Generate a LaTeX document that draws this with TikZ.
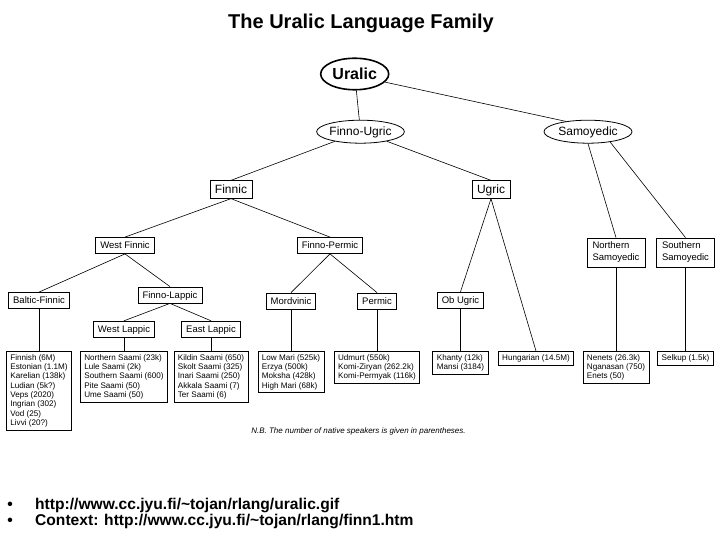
\documentclass[tikz,border=0pt]{standalone}
\usepackage{fontspec}
\setmainfont{Liberation Sans}
\usetikzlibrary{shapes.geometric}

\begin{document}
\begin{tikzpicture}[x=1pt, y=-1pt,
				    oval/.style={draw, ellipse, inner sep=0pt, minimum height=23,
				    			 line width=0.8pt, font=\fontsize{12}{14}\selectfont,
				    			 text height=8.6pt, text depth=0pt},
				    branch/.style={draw, line width=0.8pt, inner xsep=5pt, inner ysep=0pt,
				    			   minimum height=17.5, font=\fontsize{12}{14}\selectfont,
				    			   text height=8.6pt, text depth=0pt},
				    group/.style={draw, line width=0.8pt, inner xsep=4.5pt, inner ysep=0pt,
				    			  minimum height=16, font=\fontsize{9.5}{12}\selectfont,
				    			  text height=6.8pt, text depth=0pt},
				    langs/.style={draw, line width=0.8pt, anchor=north, align=left,
				    			  inner xsep=4pt, inner ysep=3pt, font=\fontsize{8.1}{9.3}\selectfont},
				    link/.style={line width=0.6pt}]
	\useasboundingbox (0,0) rectangle (720,540);

	\node[anchor=base, font=\bfseries\fontsize{20}{24}\selectfont] (title) at (361,28.3) {The Uralic Language Family};

	\node[oval, line width=1.6pt, minimum width=68, minimum height=31.5, text height=11.5pt,
		  font=\bfseries\fontsize{16}{19}\selectfont] (ur) at (354.7,74) {Uralic};
	\node[oval, minimum width=83] (fu) at (360.5,131.7) {Finno-Ugric};
	\node[oval, minimum width=88] (sam) at (588,131.7) {Samoyedic};
	\node[branch] (fin) at (231,189.5) {Finnic};
	\node[branch] (ug) at (491,189.5) {Ugric};
	\node[group] (wf) at (125,245.5) {West Finnic};
	\node[group] (fp) at (330,245.5) {Finno-Permic};
	\node[group, text height={}, text depth={}, align=left, minimum height=29, minimum width=58] (ns) at (616,252.5) {Northern\\Samoyedic};
	\node[group, text height={}, text depth={}, align=left, minimum height=29, minimum width=58] (ss) at (685.5,252.5) {Southern\\Samoyedic};
	\node[group] (bf) at (39,300.5) {Baltic-Finnic};
	\node[group] (fl) at (170,295) {Finno-Lappic};
	\node[group] (mo) at (291,301) {Mordvinic};
	\node[group] (pe) at (377,301) {Permic};
	\node[group] (ob) at (460.5,300.2) {Ob Ugric};
	\node[group] (wl) at (124,329.2) {West Lappic};
	\node[group] (el) at (211,329.2) {East Lappic};

	\node[langs] (finn) at (39,351) {Finnish (6M)\\Estonian (1.1M)\\Karelian (138k)\\Ludian (5k?)\\Veps (2020)\\Ingrian (302)\\Vod (25)\\Livvi (20?)};
	\node[langs] (nsa) at (124,351) {Northern Saami (23k)\\Lule Saami (2k)\\Southern Saami (600)\\Pite Saami (50)\\Ume Saami (50)};
	\node[langs] (kil) at (211,351) {Kildin Saami (650)\\Skolt Saami (325)\\Inari Saami (250)\\Akkala Saami (7)\\Ter Saami (6)};
	\node[langs] (mari) at (291,351) {Low Mari (525k)\\Erzya (500k)\\Moksha (428k)\\High Mari (68k)};
	\node[langs] (udm) at (377,351) {Udmurt (550k)\\Komi-Ziryan (262.2k)\\Komi-Permyak (116k)};
	\node[langs] (kha) at (460.5,351) {Khanty (12k)\\Mansi (3184)};
	\node[langs] (hu) at (536,351) {Hungarian (14.5M)};
	\node[langs] (nen) at (616,351) {Nenets (26.3k)\\Nganasan (750)\\Enets (50)};
	\node[langs] (sel) at (685.5,351) {Selkup (1.5k)};

	\node[font=\itshape\fontsize{8}{10}\selectfont] (nb) at (358.5,431.5) {N.B. The number of native speakers is given in parentheses.};

	\node[anchor=base, font=\bfseries\fontsize{15.6}{19}\selectfont] (b1) at (10,509.8) {•};
	\node[anchor=base west, inner xsep=0pt, font=\bfseries\fontsize{15.6}{19}\selectfont] (u1) at (35,509.8) {http://www.cc.jyu.fi/\textasciitilde tojan/rlang/uralic.gif};
	\node[anchor=base, font=\bfseries\fontsize{15.6}{19}\selectfont] (b2) at (10,525.8) {•};
	\node[anchor=base west, inner xsep=0pt, font=\bfseries\fontsize{15.6}{19}\selectfont] (u2) at (35,525.8) {Context: http://www.cc.jyu.fi/\textasciitilde tojan/rlang/finn1.htm};

	\path[link] 	(ur)  edge   (fu);
	\path[link] 	(ur.-15)  edge   (sam.155);
	\path[link] 	(fu)  edge   (fin.north);
	\path[link] 	(fu.-20)  edge   (ug.north);
	\path[link] 	(sam.south)  edge   (ns.north);
	\path[link] 	(sam.-25)  edge   (ss.north);
	\path[link] 	(fin.south)  edge   (wf.north);
	\path[link] 	(fin.south)  edge   (fp.north);
	\path[link] 	(ug.south)  edge   (ob.north);
	\path[link] 	(ug.south)  edge   (hu.north);
	\path[link] 	(wf.south)  edge   (bf.north);
	\path[link] 	(wf.south)  edge   (fl.north);
	\path[link] 	(fp.south)  edge   (mo.north);
	\path[link] 	(fp.south)  edge   (pe.north);
	\path[link] 	(fl.south)  edge   (wl.north);
	\path[link] 	(fl.south)  edge   (el.north);
	\path[link] 	(bf)  edge   (finn);
	\path[link] 	(wl)  edge   (nsa);
	\path[link] 	(el)  edge   (kil);
	\path[link] 	(mo)  edge   (mari);
	\path[link] 	(pe)  edge   (udm);
	\path[link] 	(ob)  edge   (kha);
	\path[link] 	(ns)  edge   (nen);
	\path[link] 	(ss)  edge   (sel);

\end{tikzpicture}
\end{document}
